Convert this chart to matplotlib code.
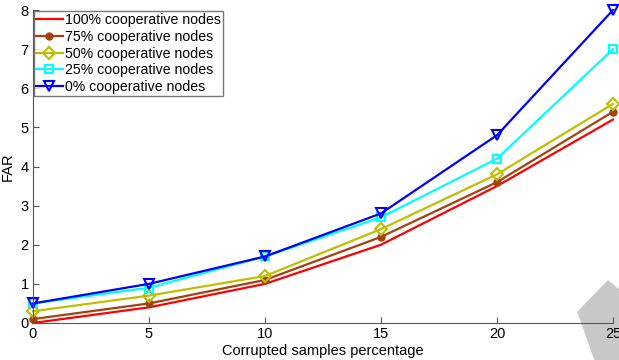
import matplotlib
matplotlib.use('Agg')
import matplotlib.pyplot as plt
from matplotlib.patches import Polygon

plt.rcParams['font.family'] = ['Liberation Sans', 'DejaVu Sans']

# data
x = [0, 5, 10, 15, 20, 25]
far_100 = [0.0, 0.4, 1.0, 2.0, 3.5, 5.2]
far_75 = [0.1, 0.5, 1.1, 2.2, 3.6, 5.4]
far_50 = [0.3, 0.7, 1.2, 2.4, 3.8, 5.6]
far_25 = [0.5, 0.9, 1.7, 2.7, 4.2, 7.0]
far_0 = [0.5, 1.0, 1.7, 2.8, 4.8, 8.0]
labels = ['100% cooperative nodes', '75% cooperative nodes', '50% cooperative nodes',
          '25% cooperative nodes', '0% cooperative nodes']

fig = plt.figure(figsize=(6.19, 3.6), dpi=100)
ax = fig.add_axes([0.0533, 0.1028, 0.937, 0.8694])
ax.set_facecolor('none')

lw = 1.6
ax.plot(x, far_100, color='#FF0000', lw=lw, label=labels[0], clip_on=False)
ax.plot(x, far_75, color='#A5400F', lw=lw, marker='o', ms=5, mfc='#A5400F', label=labels[1], clip_on=False)
ax.plot(x, far_50, color='#BFBF00', lw=lw, marker='D', ms=6, mfc='none', mew=1.5, label=labels[2], clip_on=False)
ax.plot(x, far_25, color='#00FFFF', lw=lw, marker='s', ms=6, mfc='none', mew=1.5, label=labels[3], clip_on=False)
ax.plot(x, far_0, color='#0000FF', lw=lw, marker='v', ms=7, mfc='none', mew=1.5, label=labels[4], clip_on=False)

ax.set_xlim(0, 25)
ax.set_ylim(0, 8)
ax.set_xticks(x)
ax.set_yticks(range(0, 9))
ax.tick_params(direction='in', labelsize=10.5, length=4, color='#555555', pad=3)
ax.spines['top'].set_visible(False)
ax.spines['right'].set_visible(False)
for s in ('left', 'bottom'):
    ax.spines[s].set_color('#555555')
ax.set_xlabel('Corrupted samples percentage', fontsize=10.5, labelpad=2)
ax.set_ylabel('FAR', fontsize=10.5, labelpad=4)

leg = ax.legend(loc='upper left', fontsize=10.2, frameon=True, fancybox=False,
                borderaxespad=0.05, handlelength=1.9, handletextpad=0.15,
                labelspacing=0.2, borderpad=0.15)
leg.get_frame().set_edgecolor('#555555')
leg.get_frame().set_linewidth(1.0)

# grey watermark shape in the bottom-right corner
fig.patches.append(Polygon([(578 / 619, 1 - 312 / 360), (608 / 619, 1 - 281 / 360),
                            (1.0, 1 - 290 / 360), (1.0, 0.0), (595 / 619, 0.0)],
                           closed=True, transform=fig.transFigure, color='#C8C8C8',
                           zorder=-1))

fig.savefig('out.png', dpi=100)
